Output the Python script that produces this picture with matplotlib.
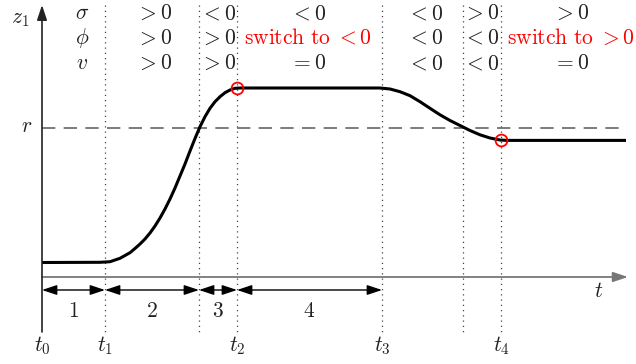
import matplotlib
matplotlib.use('Agg')
from matplotlib import pyplot as plt

plt.rcParams['mathtext.fontset'] = 'cm'
plt.rcParams['font.family'] = 'DejaVu Serif'

# instantes (coordenadas horizontais do esquema)
t_bordas = [42, 105, 199, 237, 382, 463, 501]
t_rotulos = {0: r'$t_0$', 1: r'$t_1$', 3: r'$t_2$', 4: r'$t_3$', 6: r'$t_4$'}

# curva z1
curva_x = [42, 100, 110, 120, 130, 135, 140, 145, 150, 155, 160, 165, 170, 175, 180, 185, 190, 195,
           200, 205, 210, 215, 220, 225, 230, 235, 240, 370, 380, 390, 400, 410, 420, 430, 440, 450,
           460, 470, 480, 490, 500, 507, 626]
curva_y = [262.5, 262.3, 261.7, 258.3, 252.7, 248.5, 244, 239, 233, 226, 218, 209, 199, 188, 176, 164,
           151, 138.5, 126.7, 116.7, 108.3, 101.7, 96.7, 92.7, 90, 88.3, 88, 88, 88, 89, 91.7, 95.7,
           101.7, 108.3, 114.8, 120.5, 125.5, 130.5, 134.8, 138, 140, 140.4, 140.4]
nivel_r = 128
pontos_x = [237, 501]
pontos_y = [88, 140]

# intervalos numerados
intervalos = [(42, 105), (105, 199), (199, 237), (237, 382)]
nomes_intervalos = ['1', '2', '3', '4']

# tabela de sinais
linhas = [r'$\sigma$', r'$\phi$', r'$v$']
colunas_x = [154, 218, 308, 425, 481, 571]
tabela = [
    [r'$>0$', r'$<0$', r'$<0$', r'$<0$', r'$>0$', r'$>0$'],
    [r'$>0$', r'$>0$', r'$\mathrm{switch\ to}\ <0$', r'$<0$', r'$<0$', r'$\mathrm{switch\ to}\ >0$'],
    [r'$>0$', r'$>0$', r'$=0$', r'$<0$', r'$<0$', r'$=0$'],
]
vermelho = {(1, 2), (1, 5)}

fig = plt.figure(figsize=(6.36, 3.64), dpi=100)
ax = fig.add_axes([0, 0, 1, 1])
ax.set_xlim(0, 636)
ax.set_ylim(364, 0)
ax.axis('off')

cor_txt = '#222222'
fs = 15.5

# eixos
ax.annotate('', xy=(628, 277), xytext=(42, 277),
            arrowprops=dict(arrowstyle='-|>,head_length=0.9,head_width=0.3', color='#777777', lw=1.3,
                            shrinkA=0, shrinkB=0))
ax.annotate('', xy=(42, 5), xytext=(42, 332),
            arrowprops=dict(arrowstyle='-|>,head_length=0.9,head_width=0.3', color='#222222', lw=1.2,
                            shrinkA=0, shrinkB=0))

# linhas pontilhadas verticais
for tb in t_bordas[1:]:
    ax.plot([tb, tb], [5, 333], color='#444444', lw=0.9, dashes=(1, 3.2))

# referencia r
ax.plot([42, 626], [nivel_r, nivel_r], color='#666666', lw=1.2, dashes=(8, 5))
ax.text(27, 132, r'$r$', fontsize=fs, ha='center', va='baseline', color=cor_txt)

# curva
ax.plot(curva_x, curva_y, color='black', lw=2.2, solid_capstyle='butt', solid_joinstyle='round')
ax.plot(pontos_x, pontos_y, 'o', ms=8.5, mfc='none', mec='red', mew=1.3)

# rotulos dos eixos
ax.text(20, 23, r'$z_1$', fontsize=fs, ha='center', va='baseline', color=cor_txt)
ax.text(599, 297, r'$t$', fontsize=fs, ha='center', va='baseline', color=cor_txt)
for i, rot in t_rotulos.items():
    ax.text(t_bordas[i], 351, rot, fontsize=fs, ha='center', va='baseline', color=cor_txt)

# intervalos
for (a, b), nome in zip(intervalos, nomes_intervalos):
    ax.annotate('', xy=(b, 290), xytext=(a, 290),
                arrowprops=dict(arrowstyle='<|-|>,head_length=0.9,head_width=0.3', color='black', lw=1.0,
                                shrinkA=0, shrinkB=0))
    ax.text((a + b) / 2, 317, '$' + nome + '$', fontsize=fs, ha='center', va='baseline', color=cor_txt)

# tabela
bases = [19, 44, 69]
for i, rot in enumerate(linhas):
    ax.text(82, bases[i], rot, fontsize=fs, ha='center', va='baseline', color=cor_txt)
    for j, cel in enumerate(tabela[i]):
        cor = 'red' if (i, j) in vermelho else cor_txt
        ax.text(colunas_x[j], bases[i], cel, fontsize=fs, ha='center', va='baseline', color=cor)

plt.savefig('out.png', dpi=100)
